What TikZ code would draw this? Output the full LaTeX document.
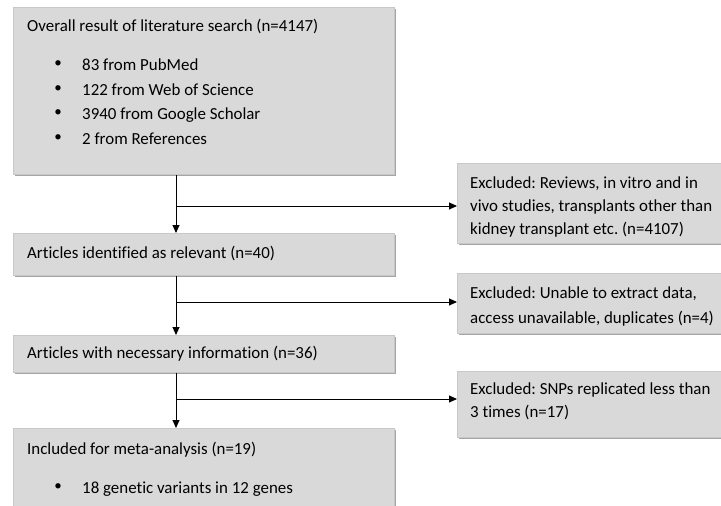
\documentclass[tikz,border=0pt]{standalone}
\usepackage{fontspec}
\setmainfont{Carlito}[Ligatures=NoCommon]
\usetikzlibrary{arrows.meta,shadows}
\definecolor{boxfill}{RGB}{217,217,217}
\definecolor{boxline}{RGB}{200,200,200}
\definecolor{shade}{RGB}{165,165,165}
\tikzset{
  box/.style={draw=boxline, line width=0.8pt, fill=boxfill, anchor=north west, inner sep=0pt,
    drop shadow={shadow xshift=2pt, shadow yshift=-2pt, fill=shade, opacity=1}},
  txt/.style={anchor=base west, inner sep=0pt, font=\fontsize{16.9}{20}\selectfont},
  bul/.style={anchor=center, inner sep=0pt, font=\fontsize{15}{20}\selectfont},
  arr/.style={draw=black, line width=0.9pt, -{Triangle[length=8pt,width=7pt]}},
  ln/.style={draw=black, line width=0.9pt}
}
\frenchspacing
\begin{document}
\begin{tikzpicture}[x=1pt,y=-1pt]
\useasboundingbox (0,0) rectangle (721,506);
\begin{scope}
\clip (0,0) rectangle (721,506);
% boxes
\node[box, minimum width=381pt, minimum height=167pt] (b1) at (13,7) {};
\node[box, minimum width=381pt, minimum height=42pt] (b2) at (13,233) {};
\node[box, minimum width=381pt, minimum height=37pt] (b3) at (13,335) {};
\node[box, minimum width=381pt, minimum height=90pt] (b4) at (13,428) {};
\node[box, minimum width=270pt, minimum height=80pt] (e1) at (457,163) {};
\node[box, minimum width=270pt, minimum height=60pt] (e2) at (457,273) {};
\node[box, minimum width=270pt, minimum height=66pt] (e3) at (457,371) {};
\end{scope}
% texts box 1
\node[txt] (t1) at (27,31) {Overall result of literature search (n=4147)};
\node[bul] (d1) at (58,64) {\textbullet};
\node[txt] (t11) at (82,70) {83 from PubMed};
\node[bul] (d2) at (58,89) {\textbullet};
\node[txt] (t12) at (82,95) {122 from Web of Science};
\node[bul] (d3) at (58,113) {\textbullet};
\node[txt] (t13) at (82,119) {3940 from Google Scholar};
\node[bul] (d4) at (58,138) {\textbullet};
\node[txt] (t14) at (82,144) {2 from References};
% box 2,3,4
\node[txt] (t2) at (27,258) {Articles identified as relevant (n=40)};
\node[txt] (t3) at (27,358) {Articles with necessary information (n=36)};
\node[txt] (t4) at (27,454) {Included for meta-analysis (n=19)};
\node[bul] (d5) at (58,487) {\textbullet};
\node[txt] (t41) at (82,493) {18 genetic variants in 12 genes};
% excluded
\node[txt] (x11) at (470,188) {Excluded: Reviews, in vitro and in};
\node[txt] (x12) at (470,211) {vivo studies, transplants other than};
\node[txt] (x13) at (470,234) {kidney transplant etc. (n=4107)};
\node[txt] (x21) at (470,298) {Excluded: Unable to extract data,};
\node[txt] (x22) at (470,323) {access unavailable, duplicates (n=4)};
\node[txt] (x31) at (470,394) {Excluded: SNPs replicated less than};
\node[txt] (x32) at (470,417) {3 times (n=17)};
% connectors
\coordinate (j1) at (176,206);
\coordinate (j2) at (176,302);
\coordinate (j3) at (176,399);
\draw[arr] (b1.south -| j1) -- (b2.north -| j1);
\draw[arr] (j1) -- (e1.west |- j1);
\draw[arr] (b2.south -| j2) -- (b3.north -| j2);
\draw[arr] (j2) -- (e2.west |- j2);
\draw[arr] (b3.south -| j3) -- (b4.north -| j3);
\draw[arr] (j3) -- (e3.west |- j3);
\end{tikzpicture}
\end{document}
